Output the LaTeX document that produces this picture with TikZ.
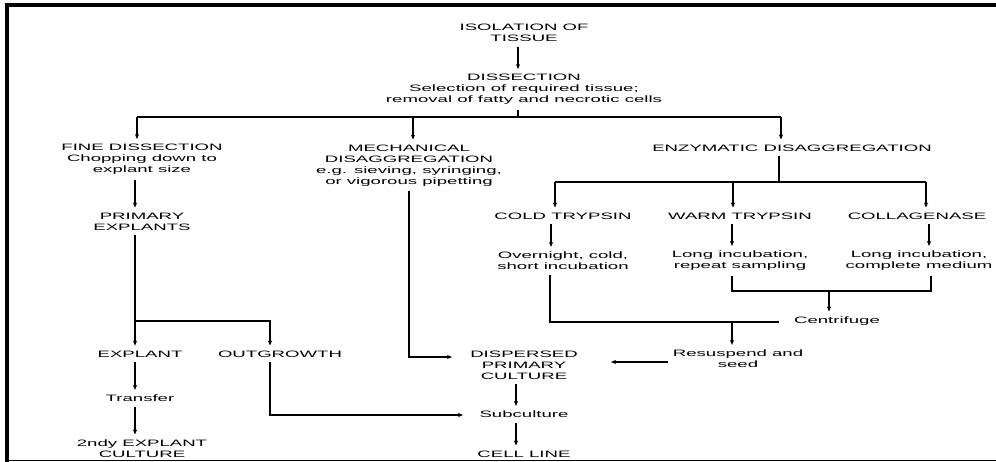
\documentclass[tikz,border=0pt]{standalone}
\usepackage{fontspec}
\setmainfont{Liberation Sans}[FakeStretch=2]
\usetikzlibrary{arrows.meta}
\newcommand\diafont{\fontsize{9.3}{11}\selectfont}
\begin{document}
\begin{tikzpicture}[x=1pt,y=-1pt,
  lbl/.style={inner xsep=0pt, inner ysep=5pt, align=center, font=\diafont},
  ln/.style={line width=1.1pt},
  arr/.style={ln, -{Stealth[length=5pt,width=4.2pt]}}]
\useasboundingbox (0,0) rectangle (996,462);
% frame
\draw[line width=4pt] (5,5) -- (996,5);
\draw[line width=4pt] (7,3) -- (7,461.5);
\draw[line width=1.5pt] (5,460.5) -- (996,460.5);
% nodes
\node[lbl] (iso) at (524,33) {ISOLATION OF\\TISSUE};
\node[lbl] (dis) at (524,89.5) {DISSECTION\\Selection of required tissue;\\removal of fatty and necrotic cells};
\node[lbl] (fine) at (142,159.5) {FINE DISSECTION\\Chopping down to\\explant size};
\node[lbl] (mech) at (409,165.5) {MECHANICAL\\DISAGGREGATION\\e.g. sieving, syringing,\\or vigorous pipetting};
\node[lbl] (enz) at (792,148) {ENZYMATIC DISAGGREGATION};
\node[lbl] (prim) at (142,221.5) {PRIMARY\\EXPLANTS};
\node[lbl] (cold) at (563,216) {COLD TRYPSIN};
\node[lbl] (warm) at (740,216) {WARM TRYPSIN};
\node[lbl] (coll) at (917,216) {COLLAGENASE};
\node[lbl] (ovn) at (563,261) {Overnight, cold,\\short incubation};
\node[lbl] (lrs) at (740,261) {Long incubation,\\repeat sampling};
\node[lbl] (lcm) at (919,261) {Long incubation,\\complete medium};
\node[lbl] (cent) at (837,321) {Centrifuge};
\node[lbl] (expl) at (140,354) {EXPLANT};
\node[lbl] (outg) at (280,354) {OUTGROWTH};
\node[lbl] (disp) at (524,365) {DISPERSED\\PRIMARY\\CULTURE};
\node[lbl] (resus) at (738,359) {Resuspend and\\seed};
\node[lbl] (trans) at (140,398.5) {Transfer};
\node[lbl] (sub) at (524,414.5) {Subculture};
\node[lbl] (sec) at (142,448.5) {2ndy EXPLANT\\CULTURE};
\node[lbl] (cell) at (524,454) {CELL LINE};
% coordinates
\coordinate (cC) at (518,0);
\coordinate (t0) at (518,117);
\coordinate (t1) at (137,117);
\coordinate (t2) at (413,117);
\coordinate (t3) at (781,117);
\coordinate (cA) at (135,0);
\coordinate (b1) at (135,321);
\coordinate (b2) at (270,321);
\coordinate (cM) at (409,0);
\coordinate (m2) at (452,357);
\coordinate (s2) at (463,415);
\coordinate (cD) at (516,0);
\coordinate (e0) at (779,182);
\coordinate (e1) at (555,182);
\coordinate (e2) at (733,182);
\coordinate (e3) at (926,182);
\coordinate (f1) at (551,0);
\coordinate (f2) at (732,0);
\coordinate (f3) at (929,0);
\coordinate (g1) at (550,0);
\coordinate (c1) at (779,322);
\coordinate (c2) at (732,322);
\coordinate (k1) at (732,291);
\coordinate (k2) at (931,291);
\coordinate (k0) at (829,291);
\coordinate (r0) at (668,362);
\coordinate (r1) at (611,362);
% connectors
\draw[arr] (iso.south -| cC) -- (dis.north -| cC);
\draw[ln] (dis.south -| t0) -- (t0);
\draw[ln] (t1) -- (t3);
\draw[arr] (t1) -- (fine.north -| t1);
\draw[arr] (t2) -- (mech.north -| t2);
\draw[arr] (t3) -- (enz.north -| t3);
\draw[arr] (fine.south -| cA) -- (prim.north -| cA);
\draw[arr] (prim.south -| cA) -- (expl.north -| cA);
\draw[arr] (b1) -| (outg.north -| b2);
\draw[arr] (expl.south -| cA) -- (trans.north -| cA);
\draw[arr] (trans.south -| cA) -- (sec.north -| cA);
\draw[arr] (outg.south -| b2) |- (s2);
\draw[arr] (mech.south -| cM) |- (m2);
\draw[arr] (disp.south -| cD) -- (sub.north -| cD);
\draw[arr] (sub.south -| cD) -- (cell.north -| cD);
\draw[ln] (enz.south -| e0) -- (e0);
\draw[ln] (e1) -- (e3);
\draw[arr] (e1) -- (cold.north -| e1);
\draw[arr] (e2) -- (warm.north -| e2);
\draw[arr] (e3) -- (coll.north -| e3);
\draw[arr] (cold.south -| f1) -- (ovn.north -| f1);
\draw[arr] (warm.south -| f2) -- (lrs.north -| f2);
\draw[arr] (coll.south -| f3) -- (lcm.north -| f3);
\draw[ln] (ovn.south -| g1) |- (c1);
\draw[arr] (c2) -- (resus.north -| c2);
\draw[ln] (lrs.south -| k1) -- (k1) -- (k2) -- (lcm.south -| k2);
\draw[arr] (k0) -- (cent.north -| k0);
\draw[arr] (r0) -- (r1);
\end{tikzpicture}
\end{document}
